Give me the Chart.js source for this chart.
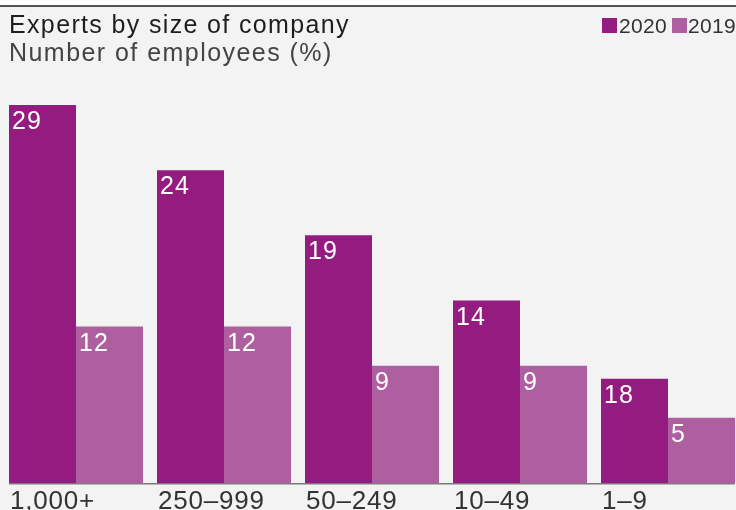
<!DOCTYPE html>
<html>
<head>
<meta charset="utf-8">
<script src="https://cdn.jsdelivr.net/npm/chart.js@4"></script>
<style>
  html, body { margin: 0; padding: 0; width: 736px; height: 510px; overflow: hidden; background: #ffffff; }
  #panel { position: absolute; left: 0; top: 5px; width: 736px; height: 505px; background: #f3f3f3; border-top: 2px solid #555555; box-sizing: border-box; }
  .txt { position: absolute; font-family: "Liberation Sans", Arial, sans-serif; white-space: nowrap; }
  #title { left: 9px; top: 12px; font-size: 25px; line-height: 25px; color: #1e1e1e; letter-spacing: 1.35px; }
  #subtitle { left: 9px; top: 40px; font-size: 25px; line-height: 25px; color: #444444; letter-spacing: 1.45px; }
  .sw { position: absolute; width: 15px; height: 15px; top: 18px; }
  .lg { top: 15px; font-size: 21px; line-height: 21px; color: #333333; letter-spacing: 0.3px; }
  #wrap { position: absolute; left: 0; top: 0; width: 744px; height: 510px; }
</style>
</head>
<body>
<div id="panel"></div>
<div id="wrap"><canvas id="c" width="744" height="510"></canvas></div>
<div id="title" class="txt">Experts by size of company</div>
<div id="subtitle" class="txt">Number of employees (%)</div>
<div class="sw" style="left:602px;background:#941b80"></div>
<div class="txt lg" style="left:619px">2020</div>
<div class="sw" style="left:672px;background:#ae5fa0"></div>
<div class="txt lg" style="left:688px">2019</div>
<script>
const categories = ['1,000+', '250–999', '50–249', '10–49', '1–9'];
const seriesNames = ['2020', '2019'];
const values2020 = [29, 24, 19, 14, 8];
const values2019 = [12, 12, 9, 9, 5];
const labels2020 = ['29', '24', '19', '14', '18'];
const labels2019 = ['12', '12', '9', '9', '5'];
const colors = ['#941b80', '#ae5fa0'];

const barLabels = [labels2020, labels2019];

const overlayPlugin = {
  id: 'overlay',
  afterDatasetsDraw(chart) {
    const ctx = chart.ctx;
    ctx.save();
    // value labels inside bars
    ctx.font = '25px "Liberation Sans", Arial, sans-serif';
    ctx.fillStyle = '#ffffff';
    ctx.textAlign = 'left';
    ctx.textBaseline = 'alphabetic';
    try { ctx.letterSpacing = '1px'; } catch (e) {}
    chart.data.datasets.forEach((ds, di) => {
      const meta = chart.getDatasetMeta(di);
      meta.data.forEach((bar, i) => {
        const left = bar.x - bar.width / 2;
        ctx.fillText(barLabels[di][i], left + 3, bar.y + 24);
      });
    });
    // axis line
    const m0 = chart.getDatasetMeta(0).data;
    const m1 = chart.getDatasetMeta(1).data;
    const x0 = m0[0].x - m0[0].width / 2;
    const x1 = m1[m1.length - 1].x + m1[m1.length - 1].width / 2;
    const yb = chart.scales.y.getPixelForValue(0);
    ctx.strokeStyle = '#7a7a7a';
    ctx.lineWidth = 1.5;
    ctx.beginPath();
    ctx.moveTo(x0, yb + 0.75);
    ctx.lineTo(x1, yb + 0.75);
    ctx.stroke();
    // category labels, left aligned to group start
    ctx.font = '26px "Liberation Sans", Arial, sans-serif';
    ctx.fillStyle = '#333333';
    try { ctx.letterSpacing = '0.8px'; } catch (e) {}
    m0.forEach((bar, i) => {
      const left = bar.x - bar.width / 2;
      ctx.fillText(categories[i], left + 1, yb + 26);
    });
    ctx.restore();
  }
};

new Chart(document.getElementById('c'), {
  type: 'bar',
  data: {
    labels: categories,
    datasets: [
      { label: seriesNames[0], data: values2020, backgroundColor: colors[0] },
      { label: seriesNames[1], data: values2019, backgroundColor: colors[1] }
    ]
  },
  options: {
    responsive: false,
    animation: false,
    devicePixelRatio: 1,
    layout: { padding: { left: 2, right: 2, top: 92, bottom: 27 } },
    datasets: { bar: { categoryPercentage: 134 / 148, barPercentage: 1, borderWidth: 0 } },
    plugins: { legend: { display: false }, tooltip: { enabled: false }, title: { display: false } },
    scales: {
      x: { display: false, offset: true, grid: { display: false } },
      y: { display: false, min: 0, max: 30 }
    }
  },
  plugins: [overlayPlugin]
});
</script>
</body>
</html>
